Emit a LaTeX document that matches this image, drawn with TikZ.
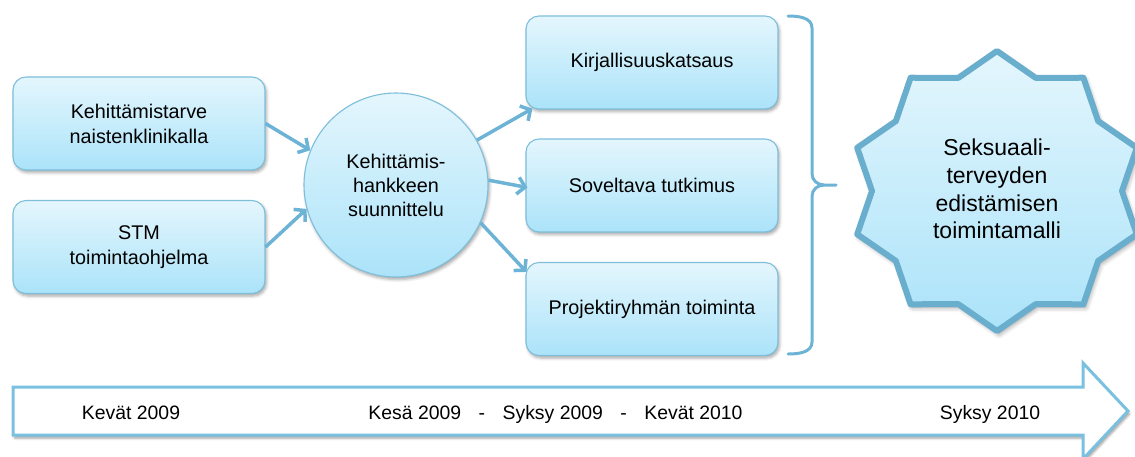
\documentclass[tikz,border=0pt]{standalone}
\usepackage{fontspec}
\setmainfont{Liberation Sans}
\usetikzlibrary{arrows.meta,calc,shadows.blur}

\definecolor{boxtop}{HTML}{E4F6FD}
\definecolor{boxbot}{HTML}{ABE3F9}
\definecolor{edge}{HTML}{7DBEDB}
\definecolor{flow}{HTML}{6DB3D5}
\definecolor{starline}{HTML}{6AAECD}
\definecolor{timeline}{HTML}{7AC0DF}

\tikzset{
  softshadow/.style={blur shadow={shadow xshift=1.5pt, shadow yshift=-2.5pt,
      shadow blur radius=3pt, shadow opacity=35}},
  box/.style={rounded corners=13pt, draw=edge, line width=1.1pt,
    top color=boxtop, bottom color=boxbot, minimum width=252pt,
    minimum height=93pt, align=center, inner sep=0pt,
    font=\fontsize{19.8}{25}\selectfont, softshadow},
  hub/.style={circle, draw=edge, line width=1.1pt, top color=boxtop,
    bottom color=boxbot, minimum size=184pt, inner sep=0pt, align=center,
    font=\fontsize{19.8}{24}\selectfont, softshadow},
  flow/.style={draw=flow, line width=3.5pt,
    -{Straight Barb[length=7.5pt,width=17pt]}},
  brace/.style={draw=flow, line width=3pt, line cap=round},
  stamp/.style={draw=starline, line width=6pt, line join=round,
    top color=boxtop, bottom color=boxbot,
    blur shadow={shadow xshift=2pt, shadow yshift=-3pt,
      shadow blur radius=5pt, shadow opacity=45}},
  datelabel/.style={font=\fontsize{19.4}{23}\selectfont, inner sep=0pt,
    anchor=base},
}

\begin{document}
\begin{tikzpicture}[x=1pt,y=-1pt]
\useasboundingbox (0,0) rectangle (1135,456);

% starting points
\node[box] (need) at (139,123.5) {Kehittämistarve\\naistenklinikalla};
\node[box] (stm)  at (139,247)   {STM\\toimintaohjelma};

% planning hub
\node[hub] (plan) at (396,185) {Kehittämis-\\hankkeen\\suunnittelu};

% work streams
\node[box] (lit) at (652,62.5)  {Kirjallisuuskatsaus};
\node[box] (res) at (652,185.5) {Soveltava tutkimus};
\node[box] (grp) at (652,309)   {Projektiryhmän toiminta};

% connectors
\draw[flow] (need.east) -- (plan.158);
\draw[flow] (stm.east)  -- (plan.195);
\draw[flow] (plan.29)   -- ($(lit.south west)+(7,-1)$);
\draw[flow] (plan.3)    -- ($(res.west)+(2,2)$);
\draw[flow] (plan.-24)  -- ($(grp.north west)+(1,10)$);

% right brace gathering the three streams
\draw[brace] (788,16) to[out=0,in=90] (812,28) -- (812,174)
  to[out=-90,in=180] (824,185) -- (836,185);
\draw[brace] (824,185) to[out=180,in=90] (812,196) -- (812,342)
  to[out=-90,in=0] (788,354);

% outcome: ten-point star (outer 147 x 140, inner ratio 0.85)
\begin{scope}[shift={(997,191)}]
\path[stamp] (90:147pt and 140pt) -- (108:125pt and 119pt)
  -- (126:147pt and 140pt) -- (144:125pt and 119pt)
  -- (162:147pt and 140pt) -- (180:125pt and 119pt)
  -- (198:147pt and 140pt) -- (216:125pt and 119pt)
  -- (234:147pt and 140pt) -- (252:125pt and 119pt)
  -- (270:147pt and 140pt) -- (288:125pt and 119pt)
  -- (306:147pt and 140pt) -- (324:125pt and 119pt)
  -- (342:147pt and 140pt) -- (0:125pt and 119pt)
  -- (18:147pt and 140pt)  -- (36:125pt and 119pt)
  -- (54:147pt and 140pt)  -- (72:125pt and 119pt) -- cycle;
\end{scope}
\node[align=center, font=\fontsize{23}{27.8}\selectfont] (model) at (997,189)
  {Seksuaali-\\terveyden\\edistämisen\\toimintamalli};

% timeline arrow
\path[draw=timeline, line width=3pt, fill=white, line join=miter,
  blur shadow={shadow xshift=1.5pt, shadow yshift=-3pt,
    shadow blur radius=2.5pt, shadow opacity=40}]
  (13,387) -- (1083,387) -- (1083,363) -- (1128,411) -- (1083,459)
  -- (1083,435) -- (13,435) -- cycle;
\node[datelabel] (t1) at (131,419.5) {Kevät 2009};
\node[datelabel] (t2) at (555.5,419.5)
  {Kesä 2009\hspace{17.5pt}-\hspace{17.5pt}Syksy 2009\hspace{17.5pt}-\hspace{17.5pt}Kevät 2010};
\node[datelabel] (t3) at (990,419.5) {Syksy 2010};
\end{tikzpicture}
\end{document}
